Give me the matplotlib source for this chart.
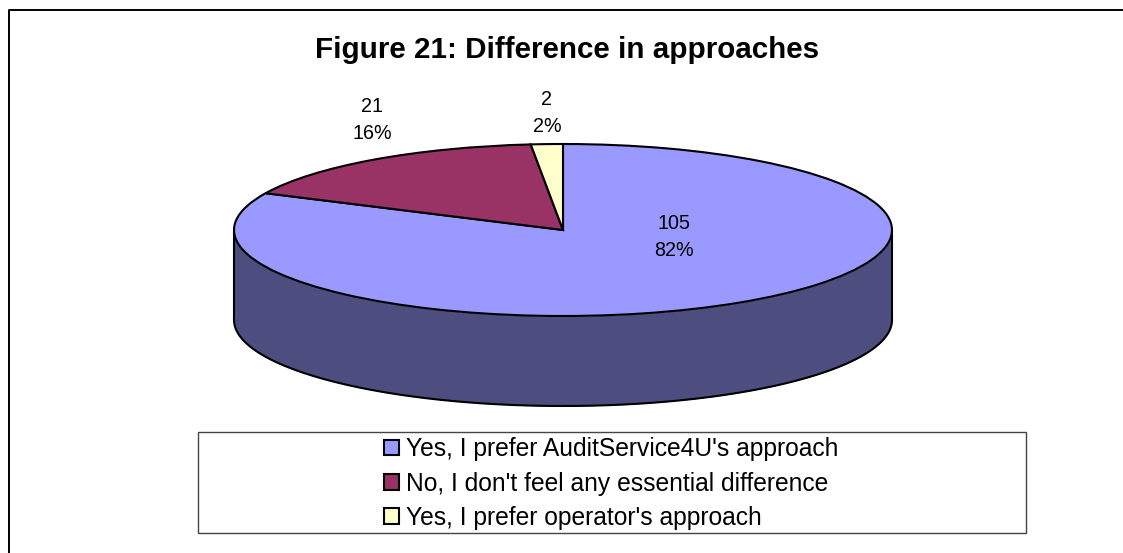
import numpy as np
import matplotlib
matplotlib.use("Agg")
import matplotlib.pyplot as plt
from matplotlib.patches import Rectangle

categories = [
    "Yes, I prefer AuditService4U's approach",
    "No, I don't feel any essential difference",
    "Yes, I prefer operator's approach",
]
counts = [105, 21, 2]
percent_labels = ["82%", "16%", "2%"]
colors = ["#9999FF", "#993366", "#FFFFCC"]
wall_color = "#4D4D80"
title = "Figure 21: Difference in approaches"

W, H = 1123, 553
plt.rcParams["font.family"] = ["Liberation Sans", "DejaVu Sans"]

fig = plt.figure(figsize=(W / 100, H / 100), dpi=100, facecolor="white")

# page axes in pixel coordinates, for border, title and legend box
page = fig.add_axes([0, 0, 1, 1])
page.set_xlim(0, W)
page.set_ylim(H, 0)
page.axis("off")
page.plot([8.5, 8.5, W], [H, 9.5, 9.5], color="black", lw=1.4, clip_on=False)
page.text(567.5, 50, title, ha="center", va="center", fontsize=21.3, fontweight="bold")
page.add_patch(Rectangle((198, 432), 828, 101, fc="white", ec="#444444", lw=1.0))

# pie axes: unit circle squashed to an ellipse, extra room below for the wall
left, right, top, mid, bottom = 234, 892, 144, 230, 406
ry = mid - top
depth = (bottom - mid) / ry - 1
pie_ax = fig.add_axes([left / W, 1 - bottom / H, (right - left) / W, (bottom - top) / H])
wedges, _ = pie_ax.pie(
    counts,
    colors=colors,
    startangle=90,
    counterclock=False,
    wedgeprops={"edgecolor": "black", "linewidth": 1.5, "zorder": 3},
)
pie_ax.set_aspect("auto")
pie_ax.set_xlim(-1, 1)
pie_ax.set_ylim(-1 - depth, 1)
pie_ax.axis("off")
for w in wedges:
    w.set_clip_on(False)

# front wall of the 3D pie
t = np.linspace(np.pi, 2 * np.pi, 200)
x = np.cos(t)
y = np.sin(t)
pie_ax.fill_between(x, y - depth, y, color=wall_color, lw=0, zorder=2)
pie_ax.plot(x, y - depth, color="black", lw=1.5, zorder=4, clip_on=False)
pie_ax.plot([-1, -1], [0, -depth], color="black", lw=1.5, zorder=4, clip_on=False)
pie_ax.plot([1, 1], [0, -depth], color="black", lw=1.5, zorder=4, clip_on=False)

# data labels
label_pos = [(674, 237), (372, 120), (547, 113)]
for (lx, ly), n, p in zip(label_pos, counts, percent_labels):
    page.text(lx, ly, f"{n}\n{p}", ha="center", va="center", fontsize=14.2,
              linespacing=1.56, zorder=10)

# legend
page.set_zorder(1)
handles = [Rectangle((0, 0), 1, 1, fc=c, ec="black", lw=1.5) for c in colors]
page.legend(
    handles,
    categories,
    loc="center left",
    bbox_to_anchor=(384 / W, 1 - 483.5 / H),
    bbox_transform=fig.transFigure,
    frameon=False,
    fontsize=17.7,
    handlelength=0.6,
    handleheight=0.6,
    handletextpad=0.28,
    labelspacing=0.42,
    borderpad=0,
    borderaxespad=0,
)

fig.savefig("out.png", dpi=100, facecolor="white")
